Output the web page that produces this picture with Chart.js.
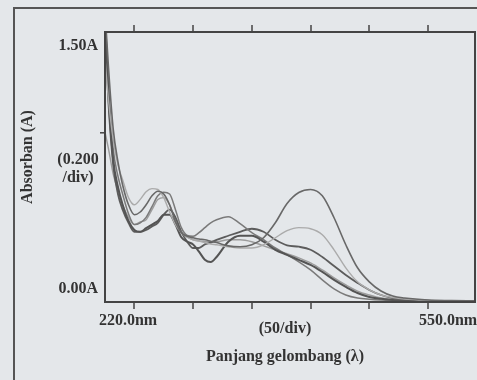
<!DOCTYPE html>
<html>
<head>
<meta charset="utf-8">
<script src="https://cdn.jsdelivr.net/npm/chart.js@4/dist/chart.umd.min.js"></script>
<style>
  html, body { margin: 0; padding: 0; background: #e4e7ea; }
  canvas { display: block; }
</style>
</head>
<body>
<canvas id="spectrum" width="477" height="380"></canvas>
<script>
// wavelength grid (nm) and absorbance of each scan
var wavelengths = [225, 228, 232, 236, 240, 245, 250, 255, 260, 265, 270, 275, 280, 285, 290, 295, 300, 305, 310, 315,
  320, 330, 340, 350, 360, 370, 380, 390, 400, 410, 420, 430, 440, 450, 460, 470, 480, 500, 520, 540];

var scanA = [1.62, 1.30, 0.96, 0.78, 0.65, 0.54, 0.485, 0.50, 0.54, 0.59, 0.615, 0.60, 0.54, 0.446, 0.385, 0.365, 0.357, 0.35, 0.346, 0.338,
  0.33, 0.312, 0.307, 0.318, 0.357, 0.44, 0.547, 0.608, 0.625, 0.59, 0.468, 0.318, 0.19, 0.112, 0.061, 0.033, 0.022, 0.011, 0.008, 0.006];
var scanB = [1.35, 1.12, 0.90, 0.76, 0.68, 0.58, 0.54, 0.57, 0.613, 0.63, 0.625, 0.58, 0.50, 0.43, 0.385, 0.36, 0.346, 0.338, 0.33, 0.322,
  0.318, 0.307, 0.30, 0.30, 0.318, 0.357, 0.396, 0.413, 0.407, 0.374, 0.29, 0.19, 0.112, 0.067, 0.039, 0.025, 0.017, 0.01, 0.007, 0.006];
var scanC = [1.60, 1.15, 0.79, 0.64, 0.54, 0.45, 0.40, 0.39, 0.41, 0.43, 0.45, 0.485, 0.485, 0.43, 0.36, 0.335, 0.32, 0.28, 0.235, 0.222,
  0.25, 0.335, 0.368, 0.368, 0.335, 0.29, 0.262, 0.234, 0.206, 0.167, 0.123, 0.084, 0.05, 0.028, 0.018, 0.011, 0.008, 0.006, 0.005, 0.005];
var scanD = [1.55, 1.20, 0.85, 0.70, 0.60, 0.49, 0.43, 0.44, 0.47, 0.53, 0.59, 0.61, 0.60, 0.513, 0.413, 0.37, 0.365, 0.385, 0.413, 0.44,
  0.457, 0.474, 0.435, 0.385, 0.346, 0.30, 0.262, 0.223, 0.178, 0.123, 0.073, 0.039, 0.022, 0.015, 0.011, 0.009, 0.008, 0.006, 0.005, 0.005];
var scanE = [1.50, 1.10, 0.76, 0.60, 0.513, 0.44, 0.39, 0.39, 0.40, 0.42, 0.44, 0.485, 0.513, 0.47, 0.39, 0.335, 0.30, 0.30, 0.32, 0.33,
  0.345, 0.368, 0.39, 0.407, 0.39, 0.346, 0.315, 0.307, 0.29, 0.25, 0.20, 0.15, 0.106, 0.067, 0.039, 0.022, 0.015, 0.008, 0.006, 0.005];
var scanF = [0.943, 0.85, 0.71, 0.62, 0.54, 0.47, 0.43, 0.445, 0.457, 0.513, 0.57, 0.58, 0.54, 0.457, 0.39, 0.36, 0.346, 0.34, 0.335, 0.335,
  0.335, 0.346, 0.346, 0.335, 0.312, 0.29, 0.268, 0.245, 0.217, 0.178, 0.134, 0.095, 0.061, 0.039, 0.022, 0.015, 0.011, 0.007, 0.006, 0.005];

var scans = [scanA, scanB, scanC, scanD, scanE, scanF];
var scanColors = ['#686868', '#ababab', '#545454', '#7a7a7a', '#5c5c5c', '#9c9c9c'];
var scanWidths = [1.6, 1.4, 2.0, 1.5, 1.8, 1.4];

// tick marks (50 nm/div) and the printed labels
var xTicks = [250, 300, 350, 400, 450, 500];
var yTickMark = 0.94;
var xStartLabel = '220.0nm';
var xEndLabel = '550.0nm';
var xDivLabel = '(50/div)';
var yTopLabel = '1.50A';
var yBottomLabel = '0.00A';
var yDivLabel = ['(0.200', '/div)'];
var xTitle = 'Panjang gelombang (\u03bb)';
var yTitle = 'Absorban (A)';

var datasets = scans.map(function (s, i) {
  return {
    data: wavelengths.map(function (w, j) { return { x: w, y: s[j] }; }),
    borderColor: scanColors[i],
    borderWidth: scanWidths[i],
    pointRadius: 0,
    fill: false,
    cubicInterpolationMode: 'monotone'
  };
});

var framePlugin = {
  id: 'frame',
  afterDatasetsDraw: function (chart) {
    var ctx = chart.ctx;
    var a = chart.chartArea;
    var xs = chart.scales.x, ys = chart.scales.y;
    ctx.save();
    ctx.strokeStyle = '#444';
    ctx.lineWidth = 2;
    ctx.strokeRect(a.left, a.top, a.right - a.left, a.bottom - a.top);

    // outer box of the figure
    ctx.strokeStyle = '#555';
    ctx.beginPath();
    ctx.moveTo(14, 380);
    ctx.lineTo(14, 8);
    ctx.lineTo(477, 8);
    ctx.stroke();

    // ticks
    ctx.strokeStyle = '#444';
    ctx.lineWidth = 1.5;
    xTicks.forEach(function (t) {
      var px = Math.round(xs.getPixelForValue(t));
      ctx.beginPath();
      ctx.moveTo(px, a.top - 7);
      ctx.lineTo(px, a.top);
      ctx.moveTo(px, a.bottom);
      ctx.lineTo(px, a.bottom + 7);
      ctx.stroke();
    });
    var ty = ys.getPixelForValue(yTickMark);
    ctx.beginPath();
    ctx.moveTo(a.left - 5, ty);
    ctx.lineTo(a.left, ty);
    ctx.stroke();

    // labels
    ctx.fillStyle = '#333';
    ctx.font = 'bold 16px "Liberation Serif", "Times New Roman", serif';
    ctx.textBaseline = 'middle';
    ctx.textAlign = 'right';
    ctx.fillText(yTopLabel, 98, 46);
    ctx.fillText(yBottomLabel, 98, 289);
    ctx.textAlign = 'center';
    ctx.fillText(yDivLabel[0], 78, 160);
    ctx.fillText(yDivLabel[1], 78, 178);
    ctx.fillText(xStartLabel, 128, 321);
    ctx.fillText(xEndLabel, 448, 321);
    ctx.fillText(xDivLabel, 285, 329);
    ctx.fillText(xTitle, 285, 357);

    ctx.translate(28, 157);
    ctx.rotate(-Math.PI / 2);
    ctx.fillText(yTitle, 0, 0);
    ctx.restore();
  }
};

new Chart(document.getElementById('spectrum'), {
  type: 'line',
  data: { datasets: datasets },
  options: {
    responsive: false,
    animation: false,
    devicePixelRatio: 1,
    layout: { padding: { left: 105, right: 2, top: 32, bottom: 78 } },
    plugins: { legend: { display: false }, tooltip: { enabled: false } },
    scales: {
      x: { type: 'linear', min: 225, max: 540, display: false },
      y: { min: 0, max: 1.5, display: false }
    }
  },
  plugins: [framePlugin]
});
</script>
</body>
</html>
